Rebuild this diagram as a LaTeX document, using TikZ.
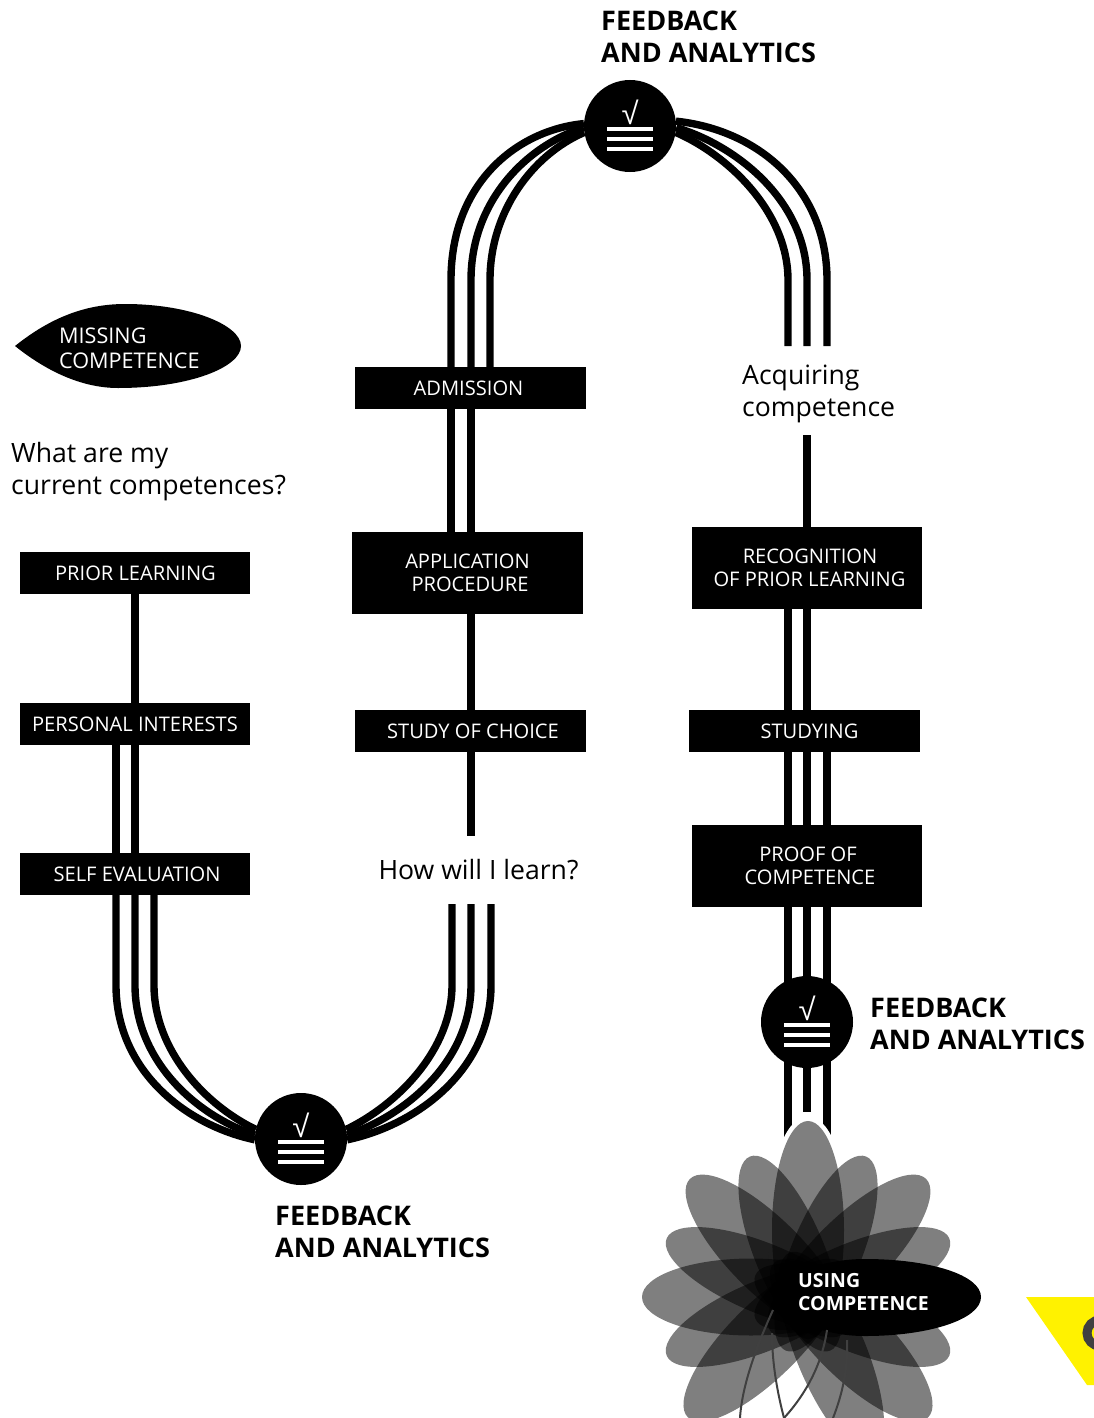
\documentclass[tikz,border=0pt]{standalone}
\usepackage{fontspec}
\setmainfont{Open Sans}
\newfontfamily\checkfont{Liberation Sans}
\begin{document}
\begin{tikzpicture}[x=1pt,y=-1pt,
  wire/.style={line width=7.4pt,black},
  boxnode/.style={fill=black,text=white,inner sep=0pt,minimum width=230.5pt,align=center,font=\fontsize{20.1}{23}\selectfont},
  smallbox/.style={boxnode,minimum height=42pt},
  tallbox/.style={boxnode,minimum height=82pt},
  roundel/.style={circle,fill=black,inner sep=0pt,minimum size=92pt},
  head/.style={anchor=west,align=left,inner sep=0pt,font=\fontsize{27}{32}\selectfont\bfseries},
  body/.style={anchor=west,align=left,inner sep=0pt,font=\fontsize{26.6}{32}\selectfont},
  leaflabel/.style={anchor=west,align=left,inner sep=0pt,text=white},
  tick/.style={text=white,inner sep=0pt,font=\fontsize{31}{31}\selectfont\checkfont},
  bar/.style={white,line width=4.6pt},
  petal/.style={fill=black,fill opacity=.5,draw=none},
  ghost/.style={draw=black!75,line width=2pt,fill=none}
]
\clip (0,0) rectangle (1094,1418);

% boxes
\node[smallbox] (prior) at (135,573) {\raisebox{-1pt}{\hspace*{1pt}PRIOR LEARNING}};
\node[smallbox] (personal) at (135,724) {\raisebox{-1pt}{PERSONAL INTERESTS}};
\node[smallbox] (self) at (135,874) {\raisebox{-1pt}{\hspace*{4pt}SELF EVALUATION}};
\node[smallbox] (admission) at (470.5,388) {\raisebox{-1pt}{\hspace*{-4pt}ADMISSION}};
\node[tallbox] (application) at (467.5,573) {APPLICATION\\\hspace*{5pt}PROCEDURE};
\node[smallbox] (choice) at (470.5,731) {\hspace*{5pt}STUDY OF CHOICE};
\node[tallbox] (recognition) at (807,568) {\hspace*{6pt}RECOGNITION\\\hspace*{5pt}OF PRIOR LEARNING};
\node[smallbox] (studying) at (804.5,731) {\hspace*{10pt}STUDYING};
\node[tallbox] (proof) at (807,866) {\hspace*{2pt}PROOF OF\\\hspace*{6pt}COMPETENCE};

% round markers
\node[roundel] (fbtop) at (630,126) {};
\node[roundel] (fbbottom) at (301,1139) {};
\node[roundel] (fbright) at (807,1022) {};
\foreach \r/\t in {fbtop/ticka,fbbottom/tickb,fbright/tickc}{
  \node[tick] (\t) at ([yshift=14pt]\r.center) {√};
  \foreach \d in {3,13,23}{
    \draw[bar] ([xshift=-23pt,yshift=-\d pt]\r.center) -- ([xshift=23pt,yshift=-\d pt]\r.center);
  }
}

% free text
\node[body] (current) at (11,472) {What are my\\current competences?};
\node[body] (acquiring) at (742,394) {Acquiring\\competence};
\node[body,anchor=center] (how) at (478.5,869.5) {How will I learn?};
\node[head] (headtop) at (601,37) {FEEDBACK\\AND ANALYTICS};
\node[head] (headright) at (870,1024) {FEEDBACK\\AND ANALYTICS};
\node[head] (headbottom) at (275,1232) {FEEDBACK\\AND ANALYTICS};

% missing-competence leaf
\fill (15,346) .. controls (50,318) and (85,304) .. (125,304)
  .. controls (190,304) and (241,325) .. (241,346)
  .. controls (241,367) and (190,388) .. (118,388)
  .. controls (85,388) and (50,374) .. (15,346) -- cycle;
\node[leaflabel,font=\fontsize{21.6}{25}\selectfont] (missing) at (59,348) {MISSING\\COMPETENCE};

% left column wires
\draw[wire] (135,0 |- prior.south) -- (135,0 |- personal.north);
\draw[wire] (116,0 |- personal.south) -- (116,0 |- self.north);
\draw[wire] (135,0 |- personal.south) -- (135,0 |- self.north);
% lower U
\coordinate (ul1) at (fbbottom.181);
\coordinate (ul2) at (fbbottom.175);
\coordinate (ul3) at (fbbottom.168);
\coordinate (ur1) at (fbbottom.-1);
\coordinate (ur2) at (fbbottom.5);
\coordinate (ur3) at (fbbottom.12);
\draw[wire] (116,0 |- self.south) -- (116,985) .. controls (116,1070) and (185,1125) .. (ul1);
\draw[wire] (135,0 |- self.south) -- (135,985) .. controls (135,1060) and (195,1115) .. (ul2);
\draw[wire] (154,0 |- self.south) -- (154,985) .. controls (154,1050) and (205,1105) .. (ul3);
\coordinate (how1) at (491,904);
\coordinate (how2) at (471,904);
\coordinate (how3) at (452,904);
\draw[wire] (how1) -- (491,985) .. controls (491,1070) and (417,1125) .. (ur1);
\draw[wire] (how2) -- (471,985) .. controls (471,1060) and (407,1115) .. (ur2);
\draw[wire] (how3) -- (452,985) .. controls (452,1050) and (397,1105) .. (ur3);
% middle column
\coordinate (howup) at (471,836);
\draw[wire] (471,0 |- choice.south) -- (howup);
\draw[wire] (471,0 |- application.south) -- (471,0 |- choice.north);
\draw[wire] (451,0 |- admission.south) -- (451,0 |- application.north);
\draw[wire] (471,0 |- admission.south) -- (471,0 |- application.north);
% top arch
\draw[wire] (451,0 |- admission.north) -- (451,280) .. controls (451,182) and (518,130) .. (fbtop.177);
\draw[wire] (471,0 |- admission.north) -- (471,280) .. controls (471,200) and (528,145) .. (fbtop.182);
\draw[wire] (490,0 |- admission.north) -- (490,280) .. controls (490,212) and (532,155) .. (fbtop.188);
\coordinate (arch1) at (827,346);
\coordinate (arch2) at (807,346);
\coordinate (arch3) at (788,346);
\draw[wire] (arch1) -- (827,280) .. controls (827,190) and (760,130) .. (fbtop.6);
\draw[wire] (arch2) -- (807,280) .. controls (807,200) and (735,145) .. (fbtop.-2);
\draw[wire] (arch3) -- (788,280) .. controls (788,212) and (728,155) .. (fbtop.-8);
% right column
\coordinate (acq) at (807,435);
\draw[wire] (acq) -- (807,0 |- recognition.north);
\draw[wire] (788,0 |- recognition.south) -- (788,0 |- studying.north);
\draw[wire] (807,0 |- recognition.south) -- (807,0 |- studying.north);
\foreach \x in {788,807,827}{
  \draw[wire] (\x,0 |- studying.south) -- (\x,0 |- proof.north);
  \draw[wire] (\x,0 |- proof.south) -- (\x,984);
}
\coordinate (stem1) at (787,1140);
\coordinate (stem2) at (807,1112);
\coordinate (stem3) at (827,1137);
\draw[wire] (788,1060) -- (stem1 -| 788,0);
\draw[wire] (807,1060) -- (stem2);
\draw[wire] (827,1060) -- (stem3);

% flower
\begin{scope}[shift={(808,1297)}]
  \fill[white,draw=white,line width=9pt,rotate=90] (67,0) ellipse[x radius=109,y radius=36];
  \foreach \a/\l/\ra/\rb in {90/176/109/36,112.5/152/105/35,135/167/109/37,157.5/153/105/35,180/166/109/38.5,202.5/153/105/35,225/170/109/37,292.5/170/109/35,315/170/109/37,337.5/153/105/35,22.5/153/105/35,45/167/109/37,67.5/152/105/35}{
    \path[petal,rotate=\a] ({\l-\ra},0) ellipse[x radius=\ra,y radius=\rb];
  }
\end{scope}
\fill (775,1297) .. controls (790,1272) and (825,1259) .. (865,1259)
  .. controls (930,1259) and (981,1275) .. (981,1297)
  .. controls (981,1319) and (930,1336) .. (865,1336)
  .. controls (825,1336) and (790,1322) .. (775,1297) -- cycle;
\draw[ghost] (773,1310) .. controls (757,1345) and (742,1385) .. (740,1418);
\draw[ghost] (772,1333) .. controls (772,1365) and (778,1395) .. (784,1418);
\draw[ghost] (827,1330) .. controls (822,1365) and (805,1395) .. (784,1418);
\draw[ghost] (847,1340) .. controls (848,1370) and (842,1395) .. (833,1418);
\node[leaflabel,font=\fontsize{19.5}{23}\selectfont\bfseries] (using) at (798,1292) {USING\\COMPETENCE};

% yellow corner
\fill[yellow] (1026,1297) -- (1094,1297) -- (1094,1385) -- (1087,1385) -- cycle;
\draw[black!75,line width=9pt] (1100,1333) circle[radius=13];
\end{tikzpicture}
\end{document}
